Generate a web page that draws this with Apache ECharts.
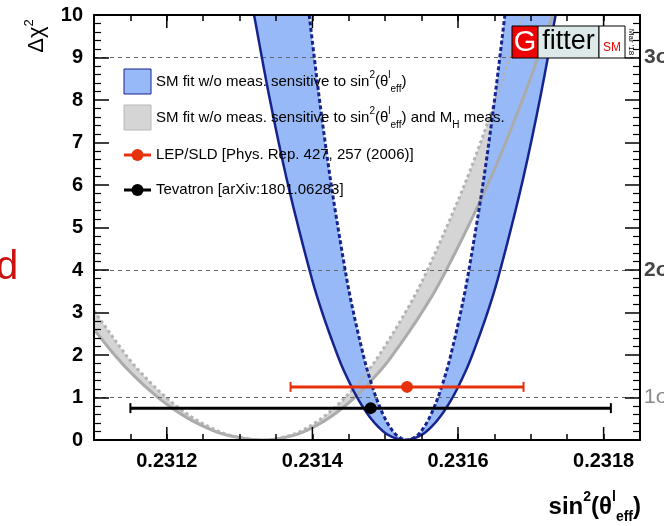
<!DOCTYPE html>
<html>
<head>
<meta charset="utf-8">
<script src="https://cdn.jsdelivr.net/npm/echarts@6/dist/echarts.min.js"></script>
<style>
  html, body { margin: 0; padding: 0; background: #fff; }
  #chart { width: 664px; height: 526px; }
</style>
</head>
<body>
<div id="chart"></div>
<script>
const FONT = "'Liberation Sans', Arial, Helvetica, sans-serif";

// Δχ² profile, SM fit without measurements sensitive to sin²θ_eff: [sin²θ_eff, Δχ²]
// outer curve (solid line) and inner curve (dashed line)
const blueOuter = [
  [0.2313199, 10], [0.2313417, 8], [0.2313666, 6], [0.2313960, 4], [0.2314135, 3],
  [0.2314344, 2], [0.2314468, 1.5], [0.2314615, 1], [0.2314763, 0.6], [0.2314911, 0.3],
  [0.2315063, 0.1], [0.2315270, 0], [0.2315477, 0.1], [0.2315629, 0.3], [0.2315777, 0.6],
  [0.2315925, 1], [0.2316072, 1.5], [0.2316196, 2], [0.2316405, 3], [0.2316580, 4],
  [0.2316874, 6], [0.2317123, 8], [0.2317341, 10]
];
const blueInner = [
  [0.2313956, 10], [0.2314098, 8], [0.2314259, 6], [0.2314450, 4], [0.2314564, 3],
  [0.2314699, 2], [0.2314779, 1.5], [0.2314875, 1], [0.2314971, 0.6], [0.2315067, 0.3],
  [0.2315166, 0.1], [0.2315300, 0], [0.2315434, 0.1], [0.2315533, 0.3], [0.2315629, 0.6],
  [0.2315725, 1], [0.2315821, 1.5], [0.2315901, 2], [0.2316036, 3], [0.2316150, 4],
  [0.2316341, 6], [0.2316502, 8], [0.2316644, 10]
];

// Same fit, additionally without the M_H measurement: outer (solid) and inner (dotted)
const grayOuter = [
  [0.2311000, 2.6], [0.2311284, 2], [0.2311556, 1.5], [0.2311880, 1], [0.2312205, 0.6],
  [0.2312531, 0.3], [0.2312865, 0.1], [0.2313320, 0], [0.2313718, 0.1], [0.2314010, 0.3],
  [0.2314296, 0.6], [0.2314580, 1], [0.2314863, 1.5], [0.2315102, 2], [0.2315502, 3],
  [0.2315840, 4], [0.2316406, 6], [0.2316884, 8], [0.2317304, 10]
];
const grayInner = [
  [0.2311000, 3.04], [0.2311439, 2], [0.2311691, 1.5], [0.2311990, 1], [0.2312290, 0.6],
  [0.2312592, 0.3], [0.2312899, 0.1], [0.2313320, 0], [0.2313677, 0.1], [0.2313939, 0.3],
  [0.2314195, 0.6], [0.2314450, 1], [0.2314704, 1.5], [0.2314918, 2], [0.2315277, 3],
  [0.2315580, 4], [0.2316088, 6], [0.2316516, 8], [0.2316893, 10]
];

// Direct measurements: central value, uncertainty, row height in the plot
const measValue = [0.23153, 0.23148];
const measError = [0.00016, 0.00033];
const measRow = [1.25, 0.75];

// Axis ticks and confidence levels
const xTickLabels = [0.2312, 0.2314, 0.2316, 0.2318];
const sigmaLevels = [1, 4, 9];
const sigmaNames = ['1σ', '2σ', '3σ'];

// Legend entries
const legendTexts = [
  '{n|SM fit w/o meas. sensitive to sin}{p|2}{n|(θ}{p|l}{b|eff}{n|)}',
  '{n|SM fit w/o meas. sensitive to sin}{p|2}{n|(θ}{p|l}{b|eff}{n|) and M}{b|H}{n| meas.}',
  '{n|LEP/SLD [Phys. Rep. 427, 257 (2006)]}',
  '{n|Tevatron [arXiv:1801.06283]}'
];

const BLUE_FILL = '#97b9f7';
const NAVY = '#16238c';
const GRAY_FILL = '#d5d5d5';
const GRAY_LINE = '#ababab';
const RED = '#e6310d';
const measColors = [RED, '#000000'];

// Catmull-Rom spline through pixel points, so curves and bands share one smooth outline
function splinePixels(px) {
  const out = [];
  const steps = 12;
  for (let i = 0; i < px.length - 1; i++) {
    const p0 = px[Math.max(i - 1, 0)], p1 = px[i], p2 = px[i + 1], p3 = px[Math.min(i + 2, px.length - 1)];
    for (let k = 0; k < steps; k++) {
      const t = k / steps, t2 = t * t, t3 = t2 * t;
      const f = j => 0.5 * (2 * p1[j] + (-p0[j] + p2[j]) * t +
        (2 * p0[j] - 5 * p1[j] + 4 * p2[j] - p3[j]) * t2 +
        (-p0[j] + 3 * p1[j] - 3 * p2[j] + p3[j]) * t3);
      out.push([f(0), f(1)]);
    }
  }
  out.push(px[px.length - 1]);
  return out;
}

function bandSeries(outer, inner, color, z) {
  return {
    type: 'custom', z: z, silent: true, clip: true,
    data: outer.concat(inner), encode: { x: 0, y: 1 },
    renderItem(params, api) {
      if (params.dataIndex !== 0) return;
      const a = splinePixels(outer.map(p => api.coord(p)));
      const b = splinePixels(inner.map(p => api.coord(p))).reverse();
      return {
        type: 'polygon',
        shape: { points: a.concat(b) },
        style: { fill: color }
      };
    }
  };
}

function curveSeries(points, color, width, dash, z) {
  return {
    type: 'custom', z: z, silent: true, clip: true,
    data: points, encode: { x: 0, y: 1 },
    renderItem(params, api) {
      if (params.dataIndex !== 0) return;
      return {
        type: 'polyline',
        shape: { points: splinePixels(points.map(p => api.coord(p))) },
        style: { stroke: color, lineWidth: width, lineDash: dash, fill: null }
      };
    }
  };
}

const axisLineStyle = { show: true, onZero: false, lineStyle: { color: '#000', width: 2 } };

function xAxisDef(pos, showLabels) {
  return {
    type: 'value', position: pos, min: 0.2311, max: 0.23185, interval: 0.00005,
    z: 10,
    axisLine: axisLineStyle,
    axisTick: { show: true, inside: true, length: 6, lineStyle: { color: '#000', width: 1.5 } },
    splitLine: { show: false },
    axisLabel: {
      show: showLabels, margin: 11, color: '#000', fontFamily: FONT, fontSize: 20, fontWeight: 'bold',
      formatter: v => {
        const t = xTickLabels.find(l => Math.abs(l - v) < 1e-9);
        return t === undefined ? '' : t.toFixed(4);
      }
    }
  };
}

function yAxisDef(pos, showLabels) {
  return {
    type: 'value', position: pos, min: 0, max: 10, interval: 1, z: 10,
    axisLine: axisLineStyle,
    axisTick: { show: true, inside: true, length: 15, lineStyle: { color: '#000', width: 1.5 } },
    minorTick: { show: true, splitNumber: 5, length: 7, lineStyle: { color: '#000', width: 1.2 } },
    splitLine: { show: false },
    minorSplitLine: { show: false },
    axisLabel: {
      show: showLabels, margin: 11, color: '#000', fontFamily: FONT, fontSize: 20, fontWeight: 'bold'
    }
  };
}

// Long ticks at the labelled positions, bottom and top frame; dashed Δχ² levels
const longTickSeries = {
  type: 'custom', z: 12, silent: true, clip: false,
  data: xTickLabels.map(v => [v, 0]), encode: { x: 0, y: 1 },
  renderItem(params, api) {
    const b = api.coord([api.value(0), 0]);
    const t = api.coord([api.value(0), 10]);
    const st = { stroke: '#000', lineWidth: 1.5 };
    return {
      type: 'group', children: [
        { type: 'line', shape: { x1: b[0], y1: b[1], x2: b[0], y2: b[1] - 13 }, style: st },
        { type: 'line', shape: { x1: t[0], y1: t[1], x2: t[0], y2: t[1] + 13 }, style: st }
      ]
    };
  },
  markLine: {
    silent: true, symbol: 'none', animation: false,
    lineStyle: { color: '#666', type: [4, 4], width: 1 },
    label: {
      show: true, position: 'end', distance: 4, formatter: p => p.name,
      fontFamily: FONT, fontSize: 21, fontWeight: 'bold', color: '#444'
    },
    data: sigmaLevels.map((v, i) => ({
      yAxis: v, name: sigmaNames[i],
      label: i === 0 ? { color: '#8a8a8a', fontWeight: 'normal' } : {}
    }))
  }
};

// Measurements with horizontal error bars
const measSeries = {
  type: 'custom', z: 11, silent: true, clip: false,
  data: measValue.map((v, i) => [v, measRow[i], v - measError[i], v + measError[i]]),
  encode: { x: [0, 2, 3], y: 1 },
  renderItem(params, api) {
    const y = api.value(1);
    const c = api.coord([api.value(0), y]);
    const lo = api.coord([api.value(2), y]);
    const hi = api.coord([api.value(3), y]);
    const col = measColors[params.dataIndex];
    const st = { stroke: col, lineWidth: 3 };
    return {
      type: 'group', children: [
        { type: 'line', shape: { x1: lo[0], y1: lo[1], x2: hi[0], y2: hi[1] }, style: st },
        { type: 'line', shape: { x1: lo[0], y1: lo[1] - 5, x2: lo[0], y2: lo[1] + 5 }, style: { stroke: col, lineWidth: 2 } },
        { type: 'line', shape: { x1: hi[0], y1: hi[1] - 5, x2: hi[0], y2: hi[1] + 5 }, style: { stroke: col, lineWidth: 2 } },
        { type: 'circle', shape: { cx: c[0], cy: c[1], r: 6 }, style: { fill: col } }
      ]
    };
  }
};

const legendRich = {
  n: { fontFamily: FONT, fontSize: 15, color: '#000', lineHeight: 24 },
  p: { fontFamily: FONT, fontSize: 10, color: '#000', lineHeight: 10, verticalAlign: 'top' },
  b: { fontFamily: FONT, fontSize: 10, color: '#000', lineHeight: 8, verticalAlign: 'bottom' }
};
const legendRows = [82, 118, 155, 190];

const graphics = [
  // Legend symbols
  { type: 'rect', shape: { x: 124, y: 69, width: 27, height: 25 }, style: { fill: BLUE_FILL, stroke: NAVY, lineWidth: 1 }, z: 50 },
  { type: 'rect', shape: { x: 124, y: 105, width: 27, height: 25 }, style: { fill: GRAY_FILL, stroke: '#b8b8b8', lineWidth: 1 }, z: 50 },
  { type: 'line', shape: { x1: 124, y1: legendRows[2], x2: 151, y2: legendRows[2] }, style: { stroke: RED, lineWidth: 3 }, z: 50 },
  { type: 'circle', shape: { cx: 137.5, cy: legendRows[2], r: 6 }, style: { fill: RED }, z: 50 },
  { type: 'line', shape: { x1: 124, y1: legendRows[3], x2: 151, y2: legendRows[3] }, style: { stroke: '#000', lineWidth: 3 }, z: 50 },
  { type: 'circle', shape: { cx: 137.5, cy: legendRows[3], r: 6 }, style: { fill: '#000' }, z: 50 }
].concat(legendTexts.map((t, i) => ({
  type: 'text', x: 156, y: legendRows[i], z: 50,
  style: { text: t, rich: legendRich, verticalAlign: 'middle', align: 'left' }
}))).concat([
  // Axis titles
  {
    type: 'text', x: 37, y: 36, rotation: Math.PI / 2, z: 50,
    style: {
      text: '{a|Δχ}{s|2}', align: 'center', verticalAlign: 'middle',
      rich: {
        a: { fontFamily: FONT, fontSize: 22, color: '#000', lineHeight: 28 },
        s: { fontFamily: FONT, fontSize: 13, color: '#000', lineHeight: 13, verticalAlign: 'top' }
      }
    }
  },
  {
    type: 'text', x: 641, y: 507, z: 50,
    style: {
      text: '{a|sin}{s|2}{a|(θ}{s|l}{u|eff}{a|)}', align: 'right', verticalAlign: 'middle',
      rich: {
        a: { fontFamily: FONT, fontSize: 24, fontWeight: 'bold', color: '#000', lineHeight: 34 },
        s: { fontFamily: FONT, fontSize: 14, fontWeight: 'bold', color: '#000', lineHeight: 14, verticalAlign: 'top' },
        u: { fontFamily: FONT, fontSize: 14, fontWeight: 'bold', color: '#000', lineHeight: 12, verticalAlign: 'bottom' }
      }
    }
  },
  // Gfitter logo
  { type: 'rect', shape: { x: 512, y: 26, width: 26, height: 32 }, style: { fill: '#ee0000', stroke: '#000', lineWidth: 1 }, z: 60 },
  { type: 'rect', shape: { x: 538, y: 26, width: 61, height: 32 }, style: { fill: '#dde8e8', stroke: '#000', lineWidth: 1 }, z: 60 },
  { type: 'rect', shape: { x: 599, y: 26, width: 26, height: 32 }, style: { fill: '#ffffff', stroke: '#000', lineWidth: 1 }, z: 60 },
  { type: 'text', x: 525, y: 43, z: 61, style: { text: 'G', fontFamily: FONT, fontSize: 29, fill: '#fff', align: 'center', verticalAlign: 'middle' } },
  { type: 'text', x: 568.5, y: 42, z: 61, style: { text: 'fitter', fontFamily: FONT, fontSize: 27, fill: '#000', align: 'center', verticalAlign: 'middle' } },
  { type: 'text', x: 612, y: 48, z: 61, style: { text: 'SM', fontFamily: FONT, fontSize: 12, fill: '#ee0000', align: 'center', verticalAlign: 'middle' } },
  { type: 'text', x: 631, y: 42, rotation: -Math.PI / 2, z: 61, style: { text: "Mar '18", fontFamily: FONT, fontSize: 8, fill: '#000', align: 'center', verticalAlign: 'middle' } },
  // Letter at the left border
  { type: 'text', x: -4, y: 268, z: 50, style: { text: 'd', fontFamily: FONT, fontSize: 40, fill: '#cc1111', align: 'left', verticalAlign: 'middle' } }
]);

const chart = echarts.init(document.getElementById('chart'), null, { renderer: 'canvas' });
chart.setOption({
  animation: false,
  backgroundColor: '#fff',
  grid: { left: 94, right: 24, top: 15, bottom: 86, containLabel: false, outerBoundsMode: 'none' },
  xAxis: [xAxisDef('bottom', true), xAxisDef('top', false)],
  yAxis: [yAxisDef('left', true), yAxisDef('right', false)],
  series: [
    bandSeries(grayOuter, grayInner, GRAY_FILL, 2),
    bandSeries(blueOuter, blueInner, BLUE_FILL, 3),
    curveSeries(grayOuter, GRAY_LINE, 3, null, 4),
    curveSeries(grayInner, '#b3b3b3', 3, [3, 3], 4),
    curveSeries(blueOuter, NAVY, 2.5, null, 5),
    curveSeries(blueInner, NAVY, 3, [4, 2.5], 5),
    measSeries,
    longTickSeries
  ],
  graphic: graphics
});
</script>
</body>
</html>
